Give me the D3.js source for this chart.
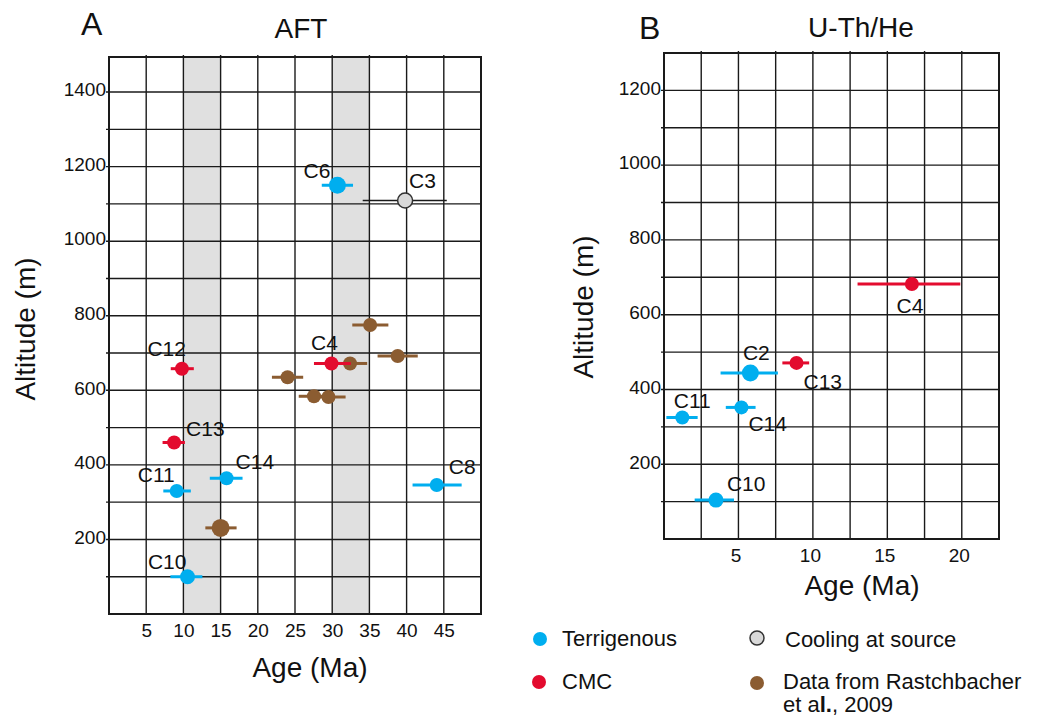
<!DOCTYPE html>
<html>
<head>
<meta charset="utf-8">
<script src="https://cdn.jsdelivr.net/npm/d3@7"></script>
<style>
  body { margin: 0; background: #fff; }
  svg { font-family: "Liberation Sans", Arial, sans-serif; }
</style>
</head>
<body>
<div id="chart"></div>
<script>
// AFT ages (Ma) with error range, altitude (m)
const aftTerrigenous = [
  {label: "C6",  age: 30.7,  lo: 28.6,  hi: 32.8,  alt: 1150},
  {label: "C14", age: 15.8,  lo: 13.55, hi: 17.95, alt: 364},
  {label: "C11", age: 9.1,   lo: 7.3,   hi: 11.0,  alt: 330},
  {label: "C10", age: 10.55, lo: 8.25,  hi: 12.55, alt: 100},
  {label: "C8",  age: 44.05, lo: 40.8,  hi: 47.4,  alt: 346}
];
const aftCMC = [
  {label: "C12", age: 9.8,  lo: 8.3,   hi: 11.4, alt: 658},
  {label: "C13", age: 8.75, lo: 7.2,   hi: 10.2, alt: 460},
  {label: "C4",  age: 29.9, lo: 27.55, hi: 32.5, alt: 672}
];
const aftSource = [
  {label: "C3", age: 39.8, lo: 34.1, hi: 45.4, alt: 1109}
];
const aftRatschbacher = [
  {label: "", age: 35.1,  lo: 32.7,  hi: 37.55, alt: 775},
  {label: "", age: 38.8,  lo: 36.1,  hi: 41.5,  alt: 692},
  {label: "", age: 32.4,  lo: 30.6,  hi: 34.7,  alt: 672},
  {label: "", age: 24.0,  lo: 21.9,  hi: 26.1,  alt: 635},
  {label: "", age: 27.55, lo: 25.5,  hi: 29.5,  alt: 584},
  {label: "", age: 29.5,  lo: 27.5,  hi: 31.8,  alt: 582},
  {label: "", age: 15.0,  lo: 12.95, hi: 17.15, alt: 231}
];
// U-Th/He
const heTerrigenous = [
  {label: "C2",  age: 5.8,  lo: 3.8,  hi: 7.65, alt: 444},
  {label: "C11", age: 1.23, lo: 0.16, hi: 2.26, alt: 325},
  {label: "C14", age: 5.2,  lo: 4.15, hi: 6.15, alt: 352},
  {label: "C10", age: 3.49, lo: 2.06, hi: 4.7,  alt: 104}
];
const heCMC = [
  {label: "C13", age: 8.9,   lo: 7.95, hi: 9.75, alt: 471},
  {label: "C4",  age: 16.65, lo: 13.0, hi: 19.9, alt: 682}
];

const aftBands = [[10, 15], [30, 35]];
const aftXTicks = [5, 10, 15, 20, 25, 30, 35, 40, 45];
const heXTicks = [5, 10, 15, 20];
const aftYTicks = [200, 400, 600, 800, 1000, 1200, 1400];
const heYTicks = [200, 400, 600, 800, 1000, 1200];

const legendItems = ["Terrigenous", "CMC", "Cooling at source", "Data from Rastchbacher"];

const blue = "#00aeef", red = "#e30b2e", brown = "#8b5c31", grey = "#d9d9d9";

// label placement (layout only)
const aftLabelPos = {
  C6: ["end", -7, -7], C3: ["start", 4, -13], C12: ["end", 4, -13], C13: ["start", 12, -7],
  C11: ["end", -2, -9], C14: ["start", 9, -9], C8: ["start", 12, -11], C10: ["end", -1, -8],
  C4: ["middle", -7, -13]
};
const heLabelPos = {
  C4: ["middle", -2, 29], C2: ["middle", 6, -13], C13: ["start", 7, 26],
  C11: ["middle", 10, -10], C14: ["start", 7, 24], C10: ["start", 11, -9]
};

const width = 1041, height = 720;
const svg = d3.select("#chart").append("svg")
    .attr("width", width).attr("height", height)
    .attr("viewBox", [0, 0, width, height]);

function panel(opt) {
  const x = d3.scaleLinear().domain(opt.xDomain).range(opt.xRange);
  const y = d3.scaleLinear().domain(opt.yDomain).range(opt.yRange);
  const g = svg.append("g");
  const [x0, x1] = opt.xRange, [y0, y1] = opt.yRange; // y0 bottom, y1 top

  // grey bands
  g.selectAll(".band").data(opt.bands || []).join("rect")
      .attr("x", d => x(d[0])).attr("width", d => x(d[1]) - x(d[0]))
      .attr("y", y1).attr("height", y0 - y1)
      .attr("fill", "#e0e0e0");

  // grid
  const ys = d3.range(100, opt.yDomain[1], 100);
  g.selectAll(".hgrid").data(ys).join("line")
      .attr("x1", x0 - 3).attr("x2", x1)
      .attr("y1", d => y(d)).attr("y2", d => y(d))
      .attr("stroke", "#1a1a1a").attr("stroke-width", 1.4);
  const xs = d3.range(opt.xStep, opt.xDomain[1] - 0.01, opt.xStep);
  g.selectAll(".vgrid").data(xs).join("line")
      .attr("x1", d => x(d)).attr("x2", d => x(d))
      .attr("y1", y1 - 2).attr("y2", y0)
      .attr("stroke", "#1a1a1a").attr("stroke-width", 1.4);
  g.append("rect")
      .attr("x", x0).attr("y", y1).attr("width", x1 - x0).attr("height", y0 - y1)
      .attr("fill", "none").attr("stroke", "#1a1a1a").attr("stroke-width", 2);

  // axes (labels only)
  g.append("g")
      .attr("transform", `translate(${x0 - 3},0)`)
      .call(d3.axisLeft(y).tickValues(opt.yTicks).tickSize(0).tickPadding(0).tickFormat(d3.format("d")))
      .call(a => a.select(".domain").remove())
      .selectAll("text").attr("font-size", 19).attr("fill", "#111").attr("dy", "0.2em")
      .attr("font-family", "Liberation Sans, Arial, sans-serif");
  g.append("g")
      .attr("transform", `translate(0,${y0})`)
      .call(d3.axisBottom(x).tickValues(opt.xTicks).tickSize(0).tickPadding(9.5))
      .call(a => a.select(".domain").remove())
      .selectAll("text").attr("font-size", 19).attr("fill", "#111").attr("dx", opt.xLabelDx || 0)
      .attr("font-family", "Liberation Sans, Arial, sans-serif");

  // series
  opt.series.forEach(s => {
    const sg = g.append("g");
    sg.selectAll("line").data(s.data).join("line")
        .attr("x1", d => x(d.lo)).attr("x2", d => x(d.hi))
        .attr("y1", d => y(d.alt)).attr("y2", d => y(d.alt))
        .attr("stroke", s.bar).attr("stroke-width", s.barWidth);
    sg.selectAll("circle").data(s.data).join("circle")
        .attr("cx", d => x(d.age)).attr("cy", d => y(d.alt))
        .attr("r", d => (opt.radius[d.label + d.alt] || 7))
        .attr("fill", s.fill)
        .attr("stroke", s.stroke || "none").attr("stroke-width", 1.5);
    sg.selectAll("text").data(s.data.filter(d => d.label)).join("text")
        .attr("x", d => x(d.age) + opt.labelPos[d.label][1])
        .attr("y", d => y(d.alt) + opt.labelPos[d.label][2])
        .attr("text-anchor", d => opt.labelPos[d.label][0])
        .attr("font-size", 21).attr("fill", "#111")
        .text(d => d.label);
  });

  // titles
  g.append("text").attr("x", opt.letter[0]).attr("y", opt.letter[1])
      .attr("font-size", 32).attr("fill", "#111").text(opt.letterText);
  g.append("text").attr("x", opt.title[0]).attr("y", opt.title[1])
      .attr("text-anchor", "middle").attr("font-size", 28).attr("fill", "#111").text(opt.titleText);
  g.append("text").attr("x", opt.xTitle[0]).attr("y", opt.xTitle[1])
      .attr("text-anchor", "middle").attr("font-size", 28).attr("fill", "#111").text("Age (Ma)");
  g.append("text")
      .attr("transform", `translate(${opt.yTitle[0]},${opt.yTitle[1]}) rotate(-90)`)
      .attr("text-anchor", "middle").attr("font-size", 28).attr("fill", "#111").text("Altitude (m)");
}

panel({
  xDomain: [0, 50], xRange: [109, 481], xStep: 5,
  yDomain: [0, 1494], yRange: [614, 57],
  bands: aftBands, xTicks: aftXTicks, yTicks: aftYTicks,
  labelPos: aftLabelPos,
  radius: {"C61150": 8.5, "C31109": 7.5, "231": 9, "C10100": 7.5},
  series: [
    {data: aftRatschbacher, fill: brown, bar: brown, barWidth: 3},
    {data: aftSource, fill: grey, stroke: "#333", bar: "#1a1a1a", barWidth: 1.5},
    {data: aftCMC, fill: red, bar: red, barWidth: 3},
    {data: aftTerrigenous, fill: blue, bar: blue, barWidth: 3}
  ],
  letter: [81, 35], letterText: "A",
  title: [301, 38], titleText: "AFT",
  xTitle: [310, 677], yTitle: [35, 329]
});

panel({
  xDomain: [0, 22.5], xRange: [664, 999], xStep: 2.5, xLabelDx: -3,
  yDomain: [0, 1300], yRange: [539, 53],
  xTicks: heXTicks, yTicks: heYTicks,
  labelPos: heLabelPos,
  radius: {"C2444": 8.5, "C10104": 7.5},
  series: [
    {data: heCMC, fill: red, bar: red, barWidth: 3},
    {data: heTerrigenous, fill: blue, bar: blue, barWidth: 3}
  ],
  letter: [639, 39], letterText: "B",
  title: [861, 37], titleText: "U-Th/He",
  xTitle: [862, 595], yTitle: [593, 307]
});

// legend
const legend = svg.append("g").attr("font-size", 22).attr("fill", "#111");
const legendMarks = [
  {cx: 540, cy: 639, fill: blue, stroke: "none", tx: 562, ty: 646},
  {cx: 539, cy: 682, fill: red, stroke: "none", tx: 562, ty: 689},
  {cx: 757, cy: 638, fill: grey, stroke: "#333", tx: 785, ty: 647},
  {cx: 757, cy: 683, fill: brown, stroke: "none", tx: 783, ty: 689}
];
legendMarks.forEach((m, i) => {
  legend.append("circle").attr("cx", m.cx).attr("cy", m.cy).attr("r", 7)
      .attr("fill", m.fill).attr("stroke", m.stroke).attr("stroke-width", 1.5);
  legend.append("text").attr("x", m.tx).attr("y", m.ty).text(legendItems[i]);
});
const etal = legend.append("text").attr("x", 783).attr("y", 712);
etal.append("tspan").text("et a");
etal.append("tspan").attr("font-weight", "bold").text("l.");
etal.append("tspan").text(", 2009");
</script>
</body>
</html>
